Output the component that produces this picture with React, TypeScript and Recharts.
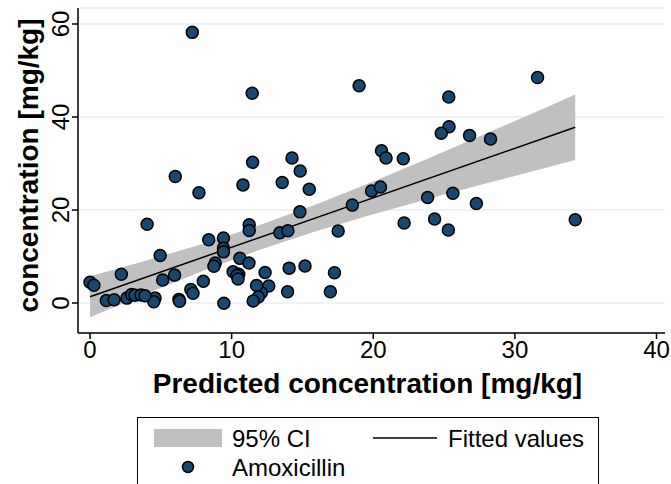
import { ComposedChart, Area, Line, Scatter, XAxis, YAxis, CartesianGrid, Label } from "recharts";

// Amoxicillin: predicted vs measured concentration, mg/kg
const predicted = [
  7.22, 11.45, 19.0, 25.33, 25.35, 24.8, 20.58, 20.9, 22.12, 14.26,
  31.6, 26.8, 28.28, 25.62, 27.28, 34.26, 25.3, 14.84, 13.57, 15.48,
  14.82, 18.52, 19.88, 20.51, 23.84, 22.18, 24.33, 13.4, 13.97, 17.52,
  12.36, 14.06, 15.18, 17.26, 12.62, 12.1, 13.95, 16.97, 11.48, 6.02,
  10.8, 7.69, 4.03, 11.24, 11.24, 8.38, 9.42, 9.42, 9.42, 4.95,
  10.58, 11.22, 8.84, 8.75, 2.21, 5.97, 5.13, 8.0, 10.1, 10.5,
  10.38, 10.45, 0.0, 0.27, 7.12, 7.27, 11.76, 11.88, 11.52, 9.45,
  6.28, 6.32, 4.59, 4.5, 1.15, 1.7, 2.6, 2.94, 3.18, 3.6, 3.88,
];
const measured = [
  58.2, 45.1, 46.7, 44.3, 37.9, 36.5, 32.75, 31.2, 31.0, 31.2,
  48.5, 36.0, 35.25, 23.6, 21.4, 17.9, 15.7, 28.4, 25.9, 24.45,
  19.6, 21.05, 24.1, 24.95, 22.7, 17.2, 18.07, 15.1, 15.55, 15.5,
  6.55, 7.5, 7.96, 6.5, 3.65, 2.2, 2.4, 2.4, 30.25, 27.2,
  25.4, 23.7, 16.95, 16.85, 15.6, 13.6, 14.0, 11.8, 11.0, 10.2,
  9.6, 8.6, 8.6, 7.9, 6.2, 6.0, 4.95, 4.7, 6.7, 6.2,
  5.9, 5.15, 4.45, 3.8, 2.9, 2.1, 3.75, 1.3, 0.45, -0.05,
  0.78, 0.38, 1.05, 0.25, 0.52, 0.7, 1.05, 1.85, 1.65, 1.72, 1.55,
];

// linear fit and its 95% confidence band
const fitX = [0, 34.26];
const fitY = [1.35, 37.8];
const ciX = [0, 4, 8, 12, 16, 20, 24, 28, 32, 34.26];
const ciLow = [-3.05, 2.06, 6.95, 11.46, 15.46, 19.07, 22.46, 25.73, 28.94, 30.77];
const ciHigh = [5.75, 9.14, 12.75, 16.76, 21.26, 26.15, 31.26, 36.49, 41.8, 44.85];

const xTicks = [0, 10, 20, 30, 40];
const yTicks = [0, 20, 40, 60];

const points = predicted.map((x, i) => ({ x, y: measured[i] }));
const bandRows = ciX.map((x, i) => ({ x, band: [ciLow[i], ciHigh[i]] }));
const fitRows = fitX.map((x, i) => ({ x, fit: fitY[i] }));

const FONT = '"Liberation Sans", Arial, sans-serif';
const NAVY = "#1a476f";
const BAND = "#c0c0c0";

const YTick = ({ x, y, payload }: any) => (
  <text
    x={x}
    y={y}
    transform={`rotate(-90 ${x} ${y})`}
    textAnchor="middle"
    fontSize={24}
    fontFamily={FONT}
    fill="#000"
  >
    {payload.value}
  </text>
);

const YTitle = ({ viewBox }: any) => {
  const cx = 38;
  const cy = viewBox.y + viewBox.height / 2 - 5;
  return (
    <text
      transform={`translate(${cx},${cy}) rotate(-90)`}
      textAnchor="middle"
      fontSize={28}
      fontWeight="bold"
      fontFamily={FONT}
      fill="#000"
    >
      concentration [mg/kg]
    </text>
  );
};

const Dot = ({ cx, cy }: any) => (
  <circle cx={cx} cy={cy} r={6} fill={NAVY} stroke="#000" strokeWidth={1.5} />
);

export default function App() {
  return (
    <div style={{ position: "relative", width: 671, height: 484, background: "#fff" }}>
      <style>{"body{margin:0}"}</style>
      <ComposedChart
        width={671}
        height={484}
        data={bandRows}
        margin={{ top: 8, right: 6, bottom: 121, left: 0 }}
        style={{ fontFamily: FONT }}
      >
        <CartesianGrid vertical={false} stroke="#e8eef1" strokeWidth={1.5} />
        <XAxis
          type="number"
          dataKey="x"
          domain={[-0.85, 40.6]}
          ticks={xTicks}
          allowDataOverflow
          height={30}
          tickSize={6}
          tickMargin={2}
          stroke="#000"
          strokeWidth={1.5}
          tick={{ fontSize: 24, fill: "#000", fontFamily: FONT }}
        >
          <Label
            value="Predicted concentration [mg/kg]"
            position="bottom"
            offset={10}
            dx={-4}
            fontSize={28}
            fontWeight="bold"
            fill="#000"
            fontFamily={FONT}
          />
        </XAxis>
        <YAxis
          type="number"
          domain={[-6.45, 63.44]}
          ticks={yTicks}
          allowDataOverflow
          width={78}
          tickSize={6}
          tickMargin={3}
          stroke="#000"
          strokeWidth={1.5}
          tick={YTick}
        >
          <Label content={YTitle} />
        </YAxis>
        <Area
          type="linear"
          dataKey="band"
          fill={BAND}
          fillOpacity={1}
          stroke="none"
          dot={false}
          activeDot={false}
          isAnimationActive={false}
        />
        <Line
          data={fitRows}
          type="linear"
          dataKey="fit"
          stroke="#000"
          strokeWidth={1.5}
          dot={false}
          activeDot={false}
          isAnimationActive={false}
        />
        <Scatter data={points} dataKey="y" shape={Dot} isAnimationActive={false} />
      </ComposedChart>
      <svg
        width={671}
        height={484}
        style={{ position: "absolute", left: 0, top: 0, pointerEvents: "none" }}
        fontFamily={FONT}
      >
        <rect x={137.5} y={417.5} width={461} height={80} fill="#fff" stroke="#000" />
        <rect x={154} y={429} width={68} height={18} fill={BAND} />
        <text x={232} y={447} fontSize={24} fill="#000">95% CI</text>
        <line x1={373} x2={437} y1={438} y2={438} stroke="#000" strokeWidth={1.5} />
        <text x={448} y={447} fontSize={24} fill="#000">Fitted values</text>
        <circle cx={188} cy={467} r={5.5} fill={NAVY} stroke="#000" strokeWidth={1.5} />
        <text x={232} y={476} fontSize={24} fill="#000">Amoxicillin</text>
      </svg>
    </div>
  );
}
